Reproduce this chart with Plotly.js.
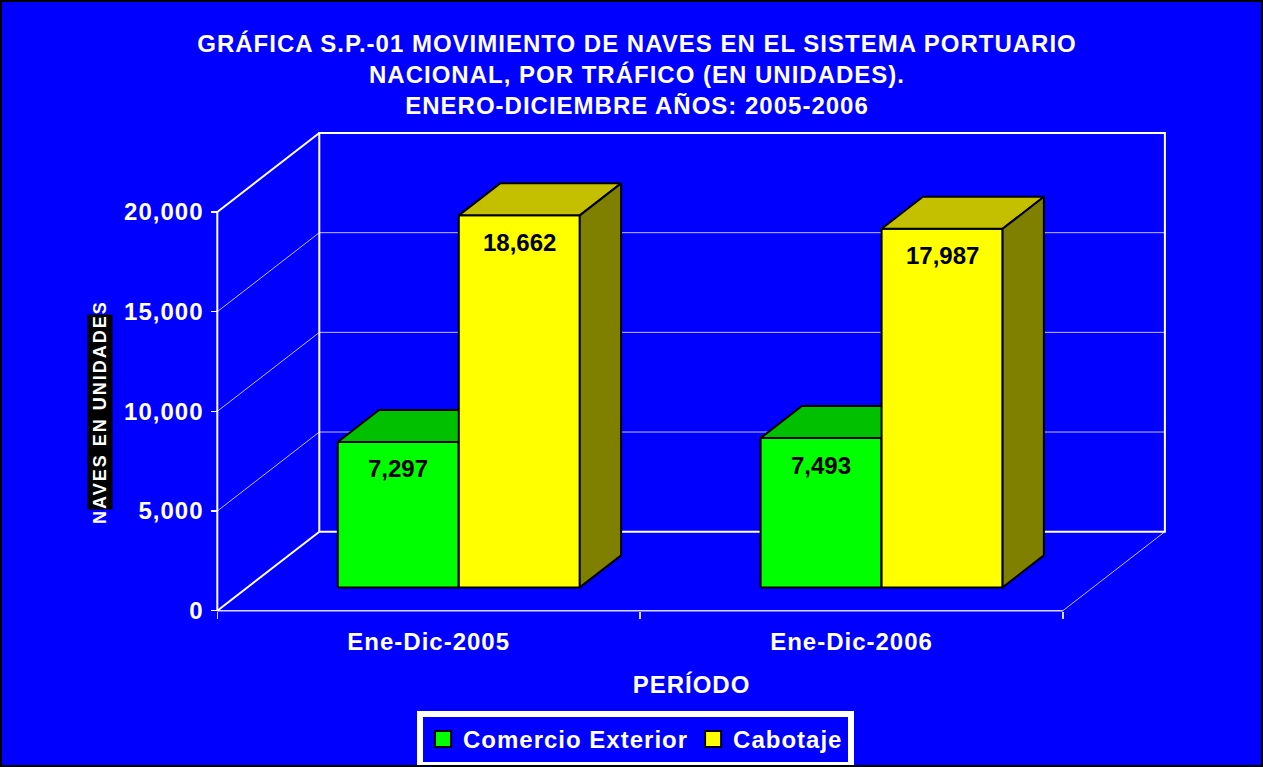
<!DOCTYPE html>
<html>
<head>
<meta charset="utf-8">
<script src="https://cdn.plot.ly/plotly-3.0.1.min.js"></script>
<style>
  html, body { margin: 0; padding: 0; background: #0000FF; }
  #wrap { position: relative; width: 1263px; height: 767px; }
  #chart { width: 1263px; height: 767px; }
  #frame { position: absolute; left: 0; top: 0; width: 1263px; height: 767px; box-sizing: border-box; border: 2px solid #000; pointer-events: none; }
  .gtitle, .xtick text, .ytick text, .xtitle, .legendtext { letter-spacing: 1px; }
  .annotation[data-index="0"] text { letter-spacing: 2px; }
</style>
</head>
<body>
<div id="wrap"><div id="chart"></div><div id="frame"></div></div>
<script>
// ---------------- data ----------------
const categories = ['Ene-Dic-2005', 'Ene-Dic-2006'];
const seriesNames = ['Comercio Exterior', 'Cabotaje'];
const comercioExterior = [7297, 7493];
const cabotaje = [18662, 17987];
const yTickVals = [0, 5000, 10000, 15000, 20000];
const titleLines = ['GRÁFICA S.P.-01 MOVIMIENTO DE NAVES EN EL SISTEMA PORTUARIO',
                    'NACIONAL, POR TRÁFICO (EN UNIDADES).',
                    'ENERO-DICIEMBRE AÑOS: 2005-2006'];
const xTitle = 'PERÍODO';
const yTitle = 'NAVES EN UNIDADES';

// ---------------- geometry / style ----------------
const W = 1263, H = 767, ML = 205, MR = 85, MT = 127, MB = 150;
const plotW = W - ML - MR, plotH = H - MT - MB;
const X0PX = 217.3, Y0PX = 610.7;          // pixel of x=0, y=0 on the front plane
const CATPX = 422.8;                        // px per category unit
const VALPX = 398.7 / 20000;                // px per value unit
const DXu = 102 / CATPX;                    // depth offset (x, data units)
const DY = 79 / VALPX;                      // depth offset (y, data units)
const BAR_W = 121 / CATPX;
const D0 = 0.295, D1 = 0.70;                // bar front / back depth fractions
const yMax = yTickVals[yTickVals.length - 1];
const nCat = categories.length;

const xr = [(ML - X0PX) / CATPX, (ML + plotW - X0PX) / CATPX];
const yr = [(Y0PX - (MT + plotH)) / VALPX, (Y0PX - MT) / VALPX];

const FONT = 'Liberation Sans, Arial, sans-serif';
const faceColors = [
  {front: '#00FF00', top: '#00C000', side: '#008000'},
  {front: '#FFFF00', top: '#C4C000', side: '#808000'}
];
const seriesValues = [comercioExterior, cabotaje];

function P(x, y, d) { return [x + d * DXu, y + d * DY]; }

function lineTrace(segs, color, width) {
  const xs = [], ys = [];
  segs.forEach(s => { s.forEach(p => { xs.push(p[0]); ys.push(p[1]); }); xs.push(null); ys.push(null); });
  return {type: 'scatter', mode: 'lines', x: xs, y: ys, hoverinfo: 'skip', showlegend: false,
          line: {color: color, width: width}};
}

const traces = [];
// walls
const thinSegs = [], thickSegs = [];
yTickVals.forEach((v, i) => {
  const seg = [P(0, v, 0), P(0, v, 1)];
  if (i === 0 || i === yTickVals.length - 1) thickSegs.push(seg); else thinSegs.push(seg);
  if (i > 0 && i < yTickVals.length - 1) thinSegs.push([P(0, v, 1), P(nCat, v, 1)]);
});
thinSegs.push([P(nCat, 0, 0), P(nCat, 0, 1)]);
traces.push(lineTrace(thinSegs, 'rgba(255,255,255,0.75)', 1));
traces.push(lineTrace([[P(0, 0, 0), P(nCat, 0, 0)]], 'rgba(255,255,255,0.85)', 1.5));
thickSegs.push([P(0, 0, 1), P(0, yMax, 1), P(nCat, yMax, 1), P(nCat, 0, 1), P(0, 0, 1)]);
thickSegs.push([P(0, 0, 0), P(0, yMax, 0)]);
traces.push(lineTrace(thickSegs, '#FFFFFF', 2));

// bars
function poly(pts, fill) {
  const xs = pts.map(p => p[0]), ys = pts.map(p => p[1]);
  xs.push(xs[0]); ys.push(ys[0]);
  return {type: 'scatter', mode: 'lines', x: xs, y: ys, fill: 'toself', fillcolor: fill,
          line: {color: '#000000', width: 2}, hoverinfo: 'skip', showlegend: false};
}
const annotations = [];
annotations.push({text: yTitle, xref: 'paper', yref: 'paper',
  x: (100 - ML) / plotW, y: (MT + plotH - 412) / plotH, xanchor: 'center', yanchor: 'middle',
  textangle: -90, showarrow: false,
  bgcolor: '#000000', borderpad: 2, font: {family: FONT, size: 18, color: '#FFFFFF', weight: 'bold'}});

for (let i = 0; i < nCat; i++) {
  seriesValues.forEach((vals, k) => {
    const v = vals[i];
    const xl = i + 0.5 - BAR_W + k * BAR_W, xR = xl + BAR_W;
    const c = faceColors[k];
    traces.push(poly([P(xl, 0, D0), P(xR, 0, D0), P(xR, v, D0), P(xl, v, D0)], c.front));
    traces.push(poly([P(xl, v, D0), P(xR, v, D0), P(xR, v, D1), P(xl, v, D1)], c.top));
    traces.push(poly([P(xR, 0, D0), P(xR, 0, D1), P(xR, v, D1), P(xR, v, D0)], c.side));
    const lp = P((xl + xR) / 2, v, D0);
    annotations.push({text: v.toLocaleString('en-US'), x: lp[0], y: lp[1], xref: 'x', yref: 'y',
      yshift: -27, yanchor: 'middle', showarrow: false,
      font: {family: FONT, size: 24, color: '#000000', weight: 'bold'}});
  });
}

// legend entries
seriesNames.forEach((name, k) => {
  traces.push({type: 'scatter', mode: 'markers', x: [null], y: [null], name: name, hoverinfo: 'skip',
    marker: {symbol: 'square', size: 16, color: faceColors[k].front, line: {color: '#000000', width: 2}}});
});

const layout = {
  width: W, height: H,
  margin: {l: ML, r: MR, t: MT, b: MB, pad: 0, autoexpand: false},
  paper_bgcolor: '#0000FF', plot_bgcolor: '#0000FF',
  font: {family: FONT, color: '#FFFFFF', size: 24, weight: 'bold'},
  title: {text: titleLines.join('<br>'), xref: 'container', yref: 'container',
          x: 637 / W, y: 1 - 52 / H, xanchor: 'center', yanchor: 'middle',
          font: {family: FONT, size: 24, color: '#FFFFFF', weight: 'bold'}},
  xaxis: {type: 'linear', range: xr, anchor: 'free', position: (MT + plotH - Y0PX) / plotH,
          tickmode: 'array', tickvals: categories.map((c, i) => i + 0.5), ticktext: categories,
          ticks: '', ticklabelstandoff: 14, showgrid: false, zeroline: false, showline: false,
          tickfont: {family: FONT, size: 24, color: '#FFFFFF', weight: 'bold'},
          minor: {tickmode: 'array', tickvals: categories.map((c, i) => i).concat([nCat]),
                  ticks: 'outside', ticklen: 7, tickwidth: 1.5, tickcolor: 'rgba(255,255,255,0.85)', showgrid: false},
          title: {text: xTitle, standoff: 22, font: {family: FONT, size: 24, color: '#FFFFFF', weight: 'bold'}},
          fixedrange: true},
  yaxis: {type: 'linear', range: yr, anchor: 'free', position: (X0PX - ML) / plotW,
          tickmode: 'array', tickvals: yTickVals, tickformat: ',d',
          ticks: 'outside', ticklen: 6, tickwidth: 1.5, tickcolor: '#FFFFFF', ticklabelstandoff: 3,
          showgrid: false, zeroline: false, showline: false,
          tickfont: {family: FONT, size: 24, color: '#FFFFFF', weight: 'bold'}, fixedrange: true},
  showlegend: true,
  legend: {orientation: 'h', x: (635.5 - ML) / plotW, xanchor: 'center',
           y: (MT + plotH - 711) / plotH, yanchor: 'top',
           bgcolor: '#0000FF', bordercolor: '#FFFFFF', borderwidth: 6, itemwidth: 30,
           font: {family: FONT, size: 24, color: '#FFFFFF', weight: 'bold'}},
  annotations: annotations,
  hovermode: false
};

Plotly.newPlot('chart', traces, layout, {displayModeBar: false, staticPlot: true});
</script>
</body>
</html>
